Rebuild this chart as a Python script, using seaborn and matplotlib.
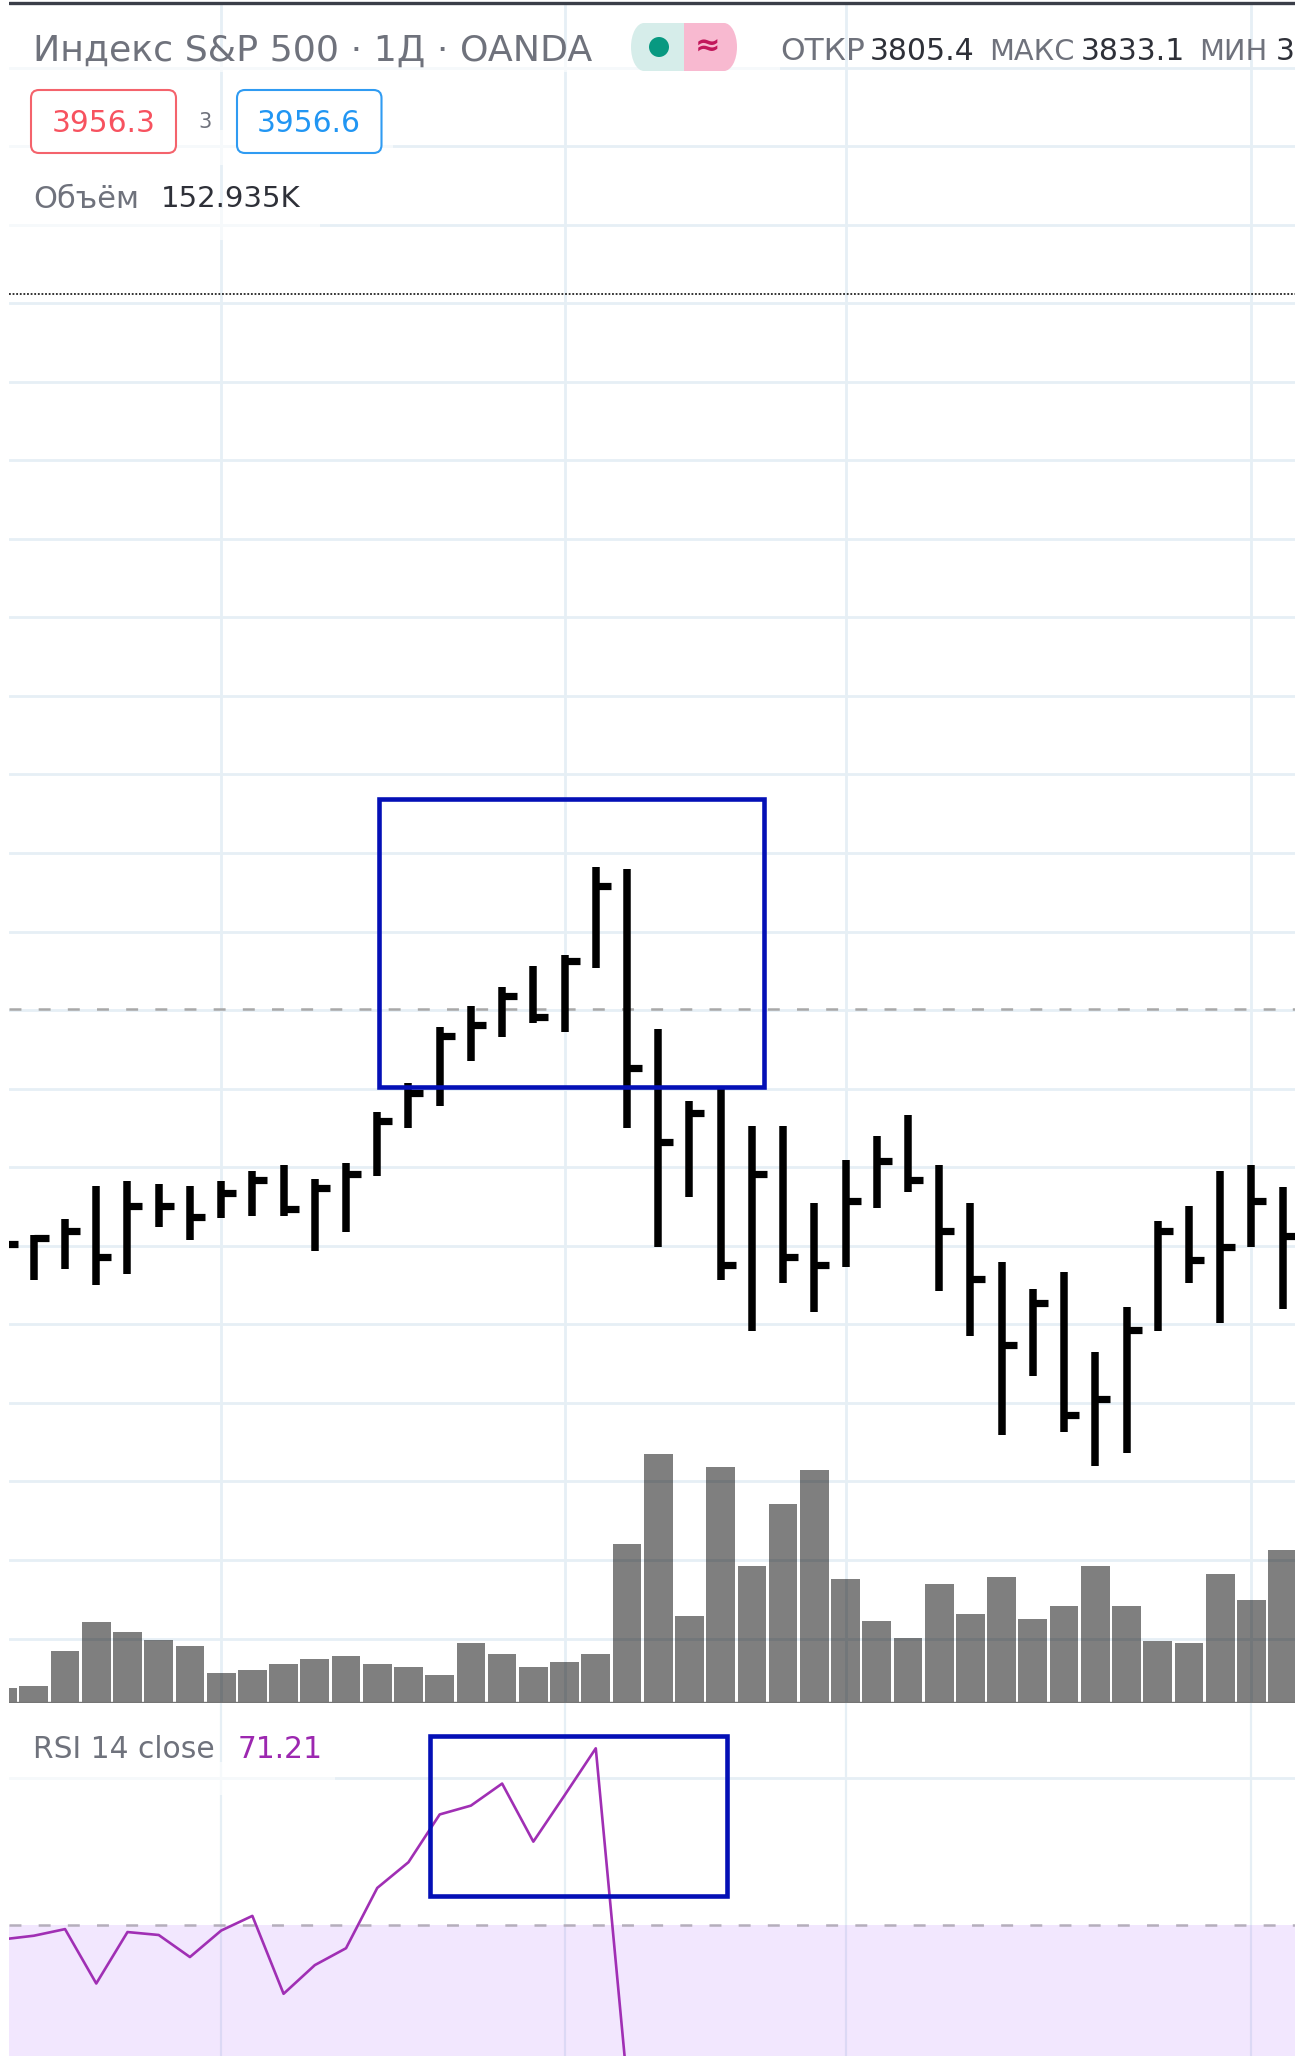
import numpy as np
import pandas as pd
import seaborn as sns
import matplotlib
matplotlib.use("Agg")
import matplotlib.pyplot as plt
from matplotlib.patches import Rectangle, FancyBboxPatch, Ellipse

# ---- data ----
highs = [3762, 3764.8, 3781.4, 3813.8, 3819, 3816.2, 3813.8, 3819, 3828.8, 3834.8, 3821, 3837.1, 3888.1, 3916.7,
         3972.7, 3994, 4012.7, 4034.3, 4045, 4133.3, 4130.7, 3970.7, 3898.7, 3913, 3874.4, 3874.4, 3797, 3840,
         3864.1, 3885, 3834.6, 3797, 3738.5, 3711.5, 3728, 3648, 3693.2, 3778.6, 3794.4, 3829, 3834.6, 3813]
lows = [3745, 3720, 3730.8, 3715, 3725.6, 3773, 3760, 3781.8, 3784.1, 3784.1, 3749.3, 3768.3, 3824.5, 3872.3,
        3894, 3939, 3963.3, 3976.7, 3968.3, 4032.3, 3872.3, 3752.6, 3803.4, 3720, 3669.2, 3717, 3688.5, 3733.3,
        3792.3, 3808.1, 3709.4, 3664.5, 3565.4, 3624.4, 3568.4, 3534, 3547, 3669.2, 3717, 3677.4, 3752.6, 3691]
closes = [3756, 3761.6, 3769.5, 3742.6, 3794, 3794, 3783, 3806.7, 3820.1, 3791, 3812.2, 3825.7, 3879, 3907.3,
          3964, 3975, 4004, 3983, 4039, 4113.7, 3932.3, 3857.7, 3886.8, 3734.6, 3825.6, 3742.7, 3734.6, 3799.1,
          3839, 3820.5, 3769.2, 3721.4, 3655.1, 3697.4, 3585.5, 3601.3, 3670.5, 3769.2, 3740.2, 3753.4, 3799.1, 3764.1]
volume = [14.6, 17.4, 52.2, 81, 70.8, 62.9, 57.3, 30.4, 33.2, 38.8, 43.9, 46.7, 38.8, 36, 27.7, 60, 49.4, 36, 41.5,
          49, 158.6, 249.5, 86.8, 235.9, 137.2, 198.7, 233.3, 123.9, 81.6, 65, 118.8, 88.9, 126.5, 83.8, 97, 137.2,
          97, 62.4, 59.8, 129.5, 102.6, 153]
rsi = [69.0, 69.25, 69.7, 66.0, 69.5, 69.3, 67.8, 69.6, 70.6, 65.3, 67.25, 68.4, 72.5, 74.25, 77.5, 78.1, 79.6,
       75.65, 78.8, 82.0, 59.3]
vgrid_bars = [7, 18, 27, 40]
rsi_band = (30, 70)
rsi_grid = [80]

W, H = 1295, 2056
LEFT = 9
SPLIT = 1703
STEP = 31.22
X0 = 2.6
GRID = "#e6eff5"
TEXT_GRAY = "#6f727c"
TEXT_DARK = "#2e3038"

sns.set_theme(style="white")
plt.rcParams["font.family"] = ["DejaVu Sans"]
plt.rcParams["lines.scale_dashes"] = False

fig = plt.figure(figsize=(W / 100, H / 100), dpi=100, facecolor="white")


def rect(x0, y0, x1, y1):
    return [x0 / W, 1 - y1 / H, (x1 - x0) / W, (y1 - y0) / H]


def fx(x):
    return x / W


def fy(y):
    return 1 - y / H


xlim = ((LEFT - X0) / STEP, (W - X0) / STEP)
idx = np.arange(len(closes))

ax_grid = fig.add_axes(rect(LEFT, 0, W, SPLIT), zorder=0)
ax_vol = fig.add_axes(rect(LEFT, 0, W, SPLIT), zorder=1)
ax_price = fig.add_axes(rect(LEFT, 0, W, SPLIT), zorder=2)
ax_rsi = fig.add_axes(rect(LEFT, SPLIT, W, H), zorder=3)

price_lim = (5000 - SPLIT, 5000)
price_grid = 5000 - (67.5 + 78.55 * np.arange(21))

# background grid
ax_grid.set_xlim(xlim)
ax_grid.set_ylim(price_lim)
for p in price_grid:
    ax_grid.axhline(p, color=GRID, lw=2.0)
for b in vgrid_bars:
    ax_grid.axvline(b, color=GRID, lw=2.0, ymax=1 - 5 / SPLIT)

# volume bars
df = pd.DataFrame({"i": idx, "vol": volume})
sns.barplot(data=df, x="i", y="vol", native_scale=True, ax=ax_vol, color="black", saturation=1,
            alpha=0.5, width=0.92, errorbar=None, linewidth=0)
ax_vol.set_xlim(xlim)
ax_vol.set_ylim(0, SPLIT)
ax_vol.patch.set_visible(False)

# price bars
ax_price.patch.set_visible(False)
ax_price.vlines(idx, lows, highs, color="black", lw=5.4, capstyle="butt")
ax_price.hlines(closes, idx, idx + 0.48, color="black", lw=5.2, capstyle="butt")
ax_price.set_xlim(xlim)
ax_price.set_ylim(price_lim)
ax_price.axhline(5000 - 1009.3, color="#a8a8a8", lw=1.8, ls=(0, (8.6, 12.4)), zorder=1)
ax_price.axhline(5000 - 294, color="#222222", lw=1.3, ls=(0, (1.3, 1.3)), zorder=1)
ax_price.axhline(5000 - 3, color="#3a3e48", lw=2.4)
ax_price.axhline(price_lim[0] + 0.5, color="#757575", lw=2.4)

# RSI panel
rsi_lim = (70 - (H - 1924.7) / 14.7, 70 + (1924.7 - SPLIT) / 14.7)
ax_rsi.set_xlim(xlim)
ax_rsi.set_ylim(rsi_lim)
ax_rsi.patch.set_visible(False)
for b in vgrid_bars:
    ax_rsi.axvline(b, color=GRID, lw=1.6, zorder=0)
for g in rsi_grid:
    ax_rsi.axhline(g, color=GRID, lw=2.0, zorder=0)
ax_rsi.axhspan(rsi_band[0], rsi_band[1], color=(0.62, 0.25, 0.98), alpha=0.125, lw=0, zorder=1)
ax_rsi.axhline(rsi_band[1], color="#b5aebc", lw=1.8, ls=(0, (8.6, 12.4)), zorder=2)
sns.lineplot(x=idx[:len(rsi)], y=rsi, ax=ax_rsi, color="#a02fb4", lw=1.9, zorder=3, estimator=None)
ax_rsi.set_xlim(xlim)
ax_rsi.set_ylim(rsi_lim)

for a in (ax_grid, ax_vol, ax_price, ax_rsi):
    a.set_axis_off()


# ---- overlay (pixel placed annotations and legends) ----
def add_px_rect(x0, y0, x1, y1, **kw):
    p = Rectangle((fx(x0), fy(y1)), fx(x1 - x0), (y1 - y0) / H, transform=fig.transFigure, **kw)
    fig.add_artist(p)
    return p


for (a, b, c, d) in [(9, 50, 780, 72), (9, 130, 393, 165), (9, 208, 320, 240), (9, 1762, 335, 1795)]:
    p = add_px_rect(a, b, c, d, facecolor="white", edgecolor="none", alpha=0.65)
    p.set_zorder(4)

for (a, b, c, d) in [(379.3, 799.2, 764.3, 1087.3), (430, 1735.8, 727, 1896)]:
    p = add_px_rect(a, b, c, d, facecolor="none", edgecolor="#0410b6", lw=3.3)
    p.set_zorder(5)


def label(x, y, s, color=TEXT_GRAY, size=21.3, ha="left", **kw):
    t = fig.text(fx(x), fy(y), s, color=color, fontsize=size, ha=ha, va="center", zorder=6, **kw)
    return t


label(33, 51, "Индекс S&P 500 · 1Д · OANDA", size=26.2)

# status pill
px_h = 48 / H
pill_g = Rectangle((fx(644), fy(71)), fx(40), px_h, transform=fig.transFigure, fc="#d6edea", ec="none", zorder=5)
fig.add_artist(pill_g)
e1 = Ellipse((fx(644), fy(47)), fx(26), px_h, transform=fig.transFigure, fc="#d6edea", ec="none", zorder=5)
fig.add_artist(e1)
pill_p = Rectangle((fx(684), fy(71)), fx(40), px_h, transform=fig.transFigure, fc="#f8b9d0", ec="none", zorder=5)
fig.add_artist(pill_p)
e2 = Ellipse((fx(724), fy(47)), fx(26), px_h, transform=fig.transFigure, fc="#f8b9d0", ec="none", zorder=5)
fig.add_artist(e2)
dot = Ellipse((fx(659), fy(47)), fx(20), 20 / H, transform=fig.transFigure, fc="#089981", ec="none", zorder=6)
fig.add_artist(dot)
label(708, 47, "≈", color="#c2185b", size=22, ha="center", fontweight="bold")

for x, s, c, z in [(780, "ОТКР", TEXT_GRAY, 22.5), (870, "3805.4", TEXT_DARK, 21.5), (989, "МАКС", TEXT_GRAY, 20.8),
                   (1081, "3833.1", TEXT_DARK, 21.5), (1199, "МИН", TEXT_GRAY, 20.8), (1276, "3788.4", TEXT_DARK, 21.5)]:
    label(x, 52, s, color=c, size=z)

for x0, x1, ec in [(31, 176, "#f4636c"), (237, 381.5, "#2f9bf2")]:
    b = FancyBboxPatch((x0, H - 153), x1 - x0, 63, boxstyle="round,pad=0,rounding_size=8",
                       transform=None, fc="white", ec=ec, lw=1.5, zorder=5)
    fig.add_artist(b)
label(103.5, 124, "3956.3", color="#f7525f", size=21.3, ha="center")
label(205, 122, "3", color=TEXT_GRAY, size=15, ha="center")
label(309, 124, "3956.6", color="#2196f3", size=21.3, ha="center")

label(33, 199, "Объём", size=22)
label(161, 199, "152.935K", color=TEXT_DARK, size=21)

label(33, 1750, "RSI 14 close", size=21.4)
label(238, 1750, "71.21", color="#9c27b0", size=21.3)

fig.savefig("out.png", dpi=100, facecolor="white")
